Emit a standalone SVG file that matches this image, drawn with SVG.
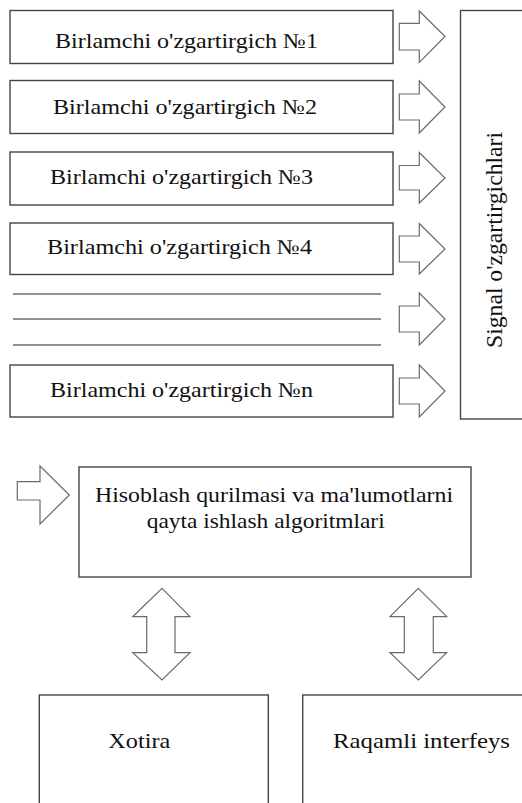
<svg xmlns="http://www.w3.org/2000/svg" width="522" height="803" viewBox="0 0 522 803">
<style>
.box{fill:#fff;stroke:#444;stroke-width:1.4}
.arr{fill:#fff;stroke:#6a6a6a;stroke-width:1.2;stroke-linejoin:miter}
.sep{stroke:#6e6e6e;stroke-width:1.4}
text{font-family:'Liberation Serif','Times New Roman',serif;fill:#111}
.t{font-size:21px}
.tv{font-size:24px}
</style>
<rect width="522" height="803" fill="#fff"/>
<g id="conv1"><rect class="box" x="10" y="10.5" width="383" height="53"/><text class="t" x="55" y="48" textLength="263" lengthAdjust="spacingAndGlyphs">Birlamchi o'zgartirgich №1</text></g>
<g id="conv2"><rect class="box" x="10" y="80.5" width="383" height="53"/><text class="t" x="53" y="113.5" textLength="264" lengthAdjust="spacingAndGlyphs">Birlamchi o'zgartirgich №2</text></g>
<g id="conv3"><rect class="box" x="10" y="152" width="383" height="53"/><text class="t" x="50" y="183.5" textLength="263" lengthAdjust="spacingAndGlyphs">Birlamchi o'zgartirgich №3</text></g>
<g id="conv4"><rect class="box" x="10" y="223" width="383" height="51.5"/><text class="t" x="47" y="253.5" textLength="265" lengthAdjust="spacingAndGlyphs">Birlamchi o'zgartirgich №4</text></g>
<g id="ellipsis-lines"><line class="sep" x1="13" y1="294" x2="381" y2="294"/><line class="sep" x1="13" y1="319" x2="381" y2="319"/><line class="sep" x1="13" y1="345" x2="381" y2="345"/></g>
<g id="convn"><rect class="box" x="10" y="365" width="383" height="52"/><text class="t" x="50" y="397" textLength="263" lengthAdjust="spacingAndGlyphs">Birlamchi o'zgartirgich №n</text></g>
<g id="signal"><rect class="box" x="460.5" y="10.5" width="70" height="408.5"/><text class="tv" transform="translate(501.5,240) rotate(-90)" text-anchor="middle" textLength="216" lengthAdjust="spacingAndGlyphs">Signal o'zgartirgichlari</text></g>
<g id="compute"><rect class="box" x="79" y="467" width="392" height="110"/><text class="t" x="95" y="501.7" textLength="358" lengthAdjust="spacingAndGlyphs">Hisoblash qurilmasi va ma'lumotlarni</text><text class="t" x="146.7" y="528.3" textLength="238" lengthAdjust="spacingAndGlyphs">qayta ishlash algoritmlari</text></g>
<g id="memory"><rect class="box" x="39.3" y="695" width="229" height="120"/><text class="t" x="108.3" y="748.3" textLength="62" lengthAdjust="spacingAndGlyphs">Xotira</text></g>
<g id="interface"><rect class="box" x="302.7" y="695" width="230" height="120"/><text class="t" x="333" y="748.3" textLength="177" lengthAdjust="spacingAndGlyphs">Raqamli interfeys</text></g>
<g id="connectors">
<path class="arr" d="M399.3,23.3 H419.3 V11 L445,36.5 L419.3,62.3 V50 H399.3 Z"/>
<path class="arr" d="M399.3,94 H419.3 V81 L445,107 L419.3,133 V120 H399.3 Z"/>
<path class="arr" d="M399.3,165.5 H419.3 V152.5 L445,178 L419.3,203 V190 H399.3 Z"/>
<path class="arr" d="M399.3,236 H419.3 V223.5 L445,249 L419.3,274 V262 H399.3 Z"/>
<path class="arr" d="M399.3,306 H419.3 V293 L445,319 L419.3,345 V332 H399.3 Z"/>
<path class="arr" d="M399.3,378 H419.3 V365 L445,391 L419.3,417 V404 H399.3 Z"/>
<path class="arr" d="M17.3,481.7 H40 V466 L69.3,495 L40,524 V500 H17.3 Z"/>
<path class="arr" d="M162,588.3 L190,616.7 H175 V652.7 H190 L162,680 L132.7,652.7 H146.7 V616.7 H132.7 Z"/>
<path class="arr" d="M418.3,588.3 L446.7,616.7 H433.3 V652.7 H446.7 L418.3,680 L390,652.7 H404.3 V616.7 H390 Z"/>
</g>
</svg>
